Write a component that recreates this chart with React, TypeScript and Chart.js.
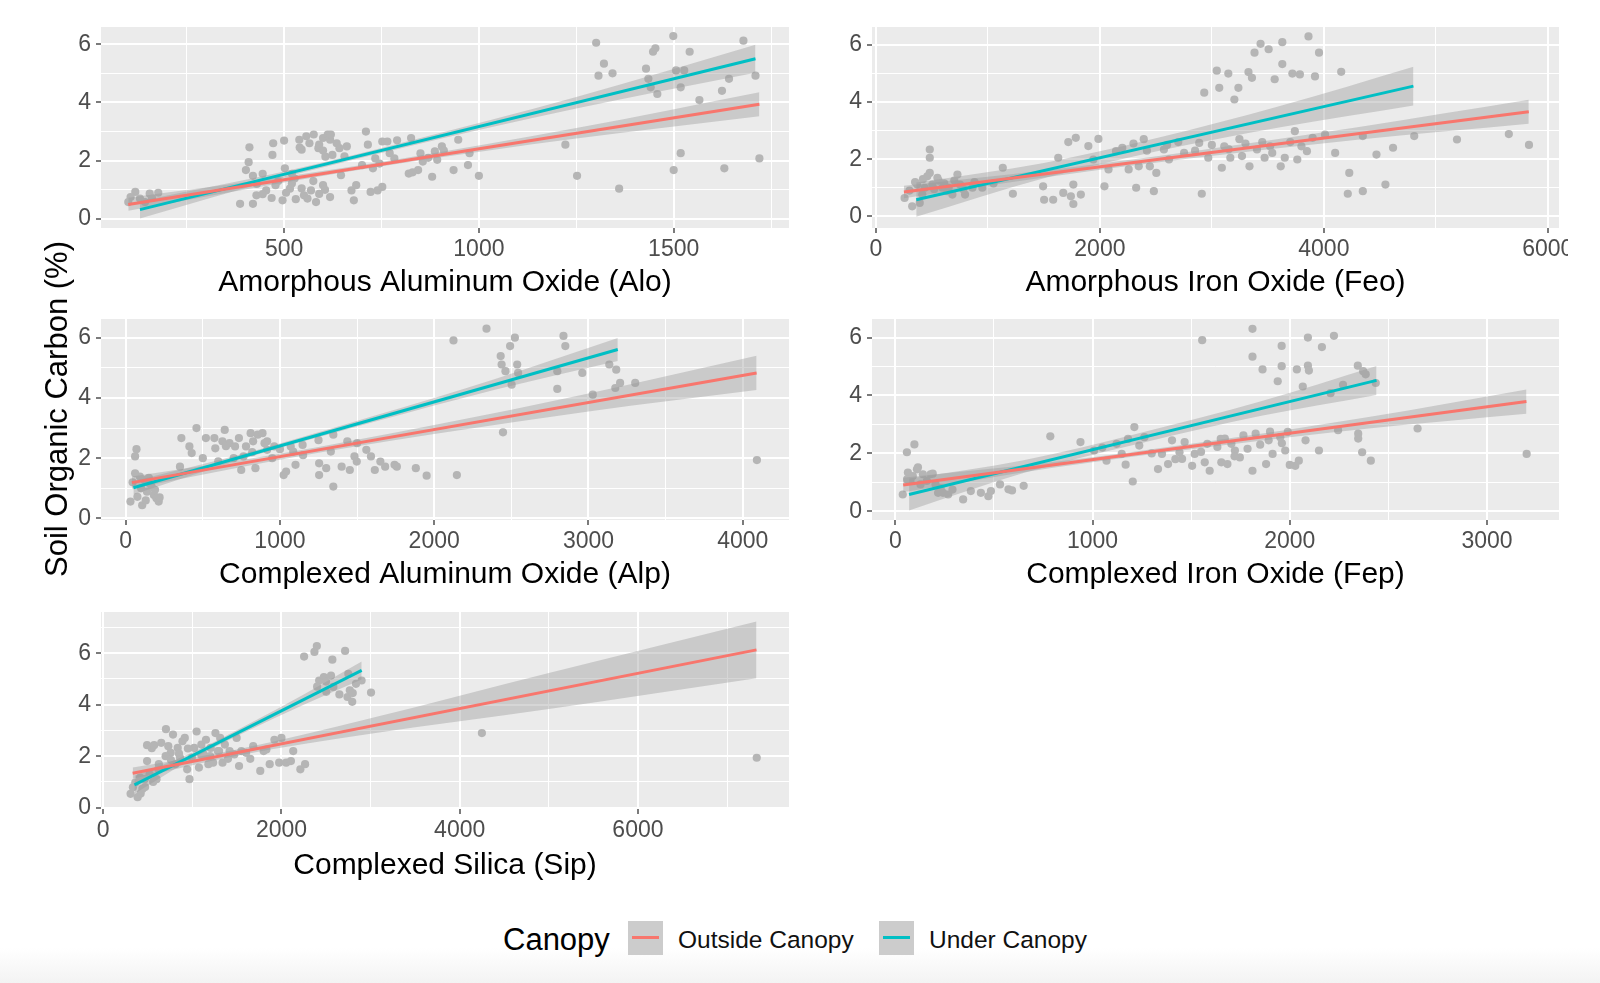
import React, { useEffect, useRef } from "react";
import { Chart, registerables } from "chart.js";

Chart.register(...registerables);

const FONT = "'Liberation Sans', Arial, Helvetica, sans-serif";
const RED = "#F8766D";
const TEAL = "#00BFC4";
const POINT_GREY = "#b5b5b5";
const BAND_FILL = "rgba(153,153,153,0.4)";

// ---------- shared labels ----------
const yTitle = "Soil Organic Carbon (%)";
const legendTitle = "Canopy";
const legendLabels = ["Outside Canopy", "Under Canopy"];
const socMajor = [0, 2, 4, 6];
const socMinor = [1, 3, 5];
const sipSocMinor = [1, 3, 5, 7];

// ---------- Panel 1: Amorphous Aluminum Oxide (Alo) ----------
const aloX = [100,118,130,155,177,106,143,161, 411,409,402,420,387,420,429,472,500,502,454,478,496,515,527,539,545,557,576,588,600,612,618,606,624,551,569,582,600,618,646,642,661,673,679,685,710,722,740,752,728,734,752,765,771,783,820,826,844,856,880,887,905,893,935,947,972,976,1000, 430,445,468,485,505,520,530,545,560,575,590,605,540,565,590,600,620,635,655,700,715,745,790,830,850,870,910,470,445,520, 1222,1252,1301,1321,1307,1343,1360,1429,1435,1447,1453,1441,1458,1499,1506,1518,1527,1541,1566,1500,1518,1624,1630,1642,1679,1710,1720];
const aloSOC = [0.58,0.93,0.7,0.87,0.9,0.75,0.58,0.72, 2.46,1.95,1.68,1.48,0.52,0.52,0.81,2.6,2.69,1.74,0.98,1.16,0.64,1.04,1.39,2.72,2.38,2.84,2.9,2.43,2.78,2.9,2.72,2.14,2.2,0.81,0.98,0.58,1.16,0.75,1.5,2.43,2.49,0.98,0.64,1.16,3.0,0.93,0.98,1.1,1.74,2.08,2.66,2.66,2.26,2.08,1.56,2.78,1.68,1.97,1.45,2.32,2.49,2.03,1.68,2.72,1.85,2.26,1.48, 1.2,0.85,0.72,1.3,0.9,1.22,0.68,1.05,0.7,1.3,0.86,1.0,2.45,2.6,2.55,2.35,2.9,2.6,2.15,1.85,2.55,1.9,2.7,1.6,2.25,2.1,2.35,2.2,1.55,1.55, 2.55,1.48,6.05,5.33,4.92,5.0,1.04,5.16,4.81,5.74,5.86,4.52,4.29,6.28,5.1,4.52,5.1,5.74,4.08,1.68,2.26,4.4,1.74,4.81,6.12,4.92,2.08];
const aloOutLineX = [100, 1720];
const aloOutLineY = [0.5, 3.94];
const aloOutBandX = [100, 500, 800, 1250, 1720];
const aloOutBandHi = [0.73, 1.45, 2.07, 3.12, 4.35];
const aloOutBandLo = [0.28, 1.25, 1.91, 2.76, 3.53];
const aloUndLineX = [130, 1710];
const aloUndLineY = [0.32, 5.5];
const aloUndBandX = [130, 500, 800, 1250, 1710];
const aloUndBandHi = [0.62, 1.63, 2.61, 4.19, 5.98];
const aloUndBandLo = [0.02, 1.43, 2.43, 3.79, 5.02];
const aloXMajor = [500, 1000, 1500];
const aloXMinor = [250, 750, 1250, 1750];

// ---------- Panel 2: Amorphous Iron Oxide (Feo) ----------
const feoX = [256,324,391,414,481,481,481,459,504,549, 594,638,683,728,751,796,863,369,436,1133, 1223,1493,1502,1583,1628,1673,1718,1763,1741,1785, 1763,1830,1897,1942,1987,2041,2077,2144,2257,2324, 2347,2392,2446,2482,2504,2572,2617,2752,2887,2910, 2932,2968,3044,3066,3089,3111,3147,3165,3201,3237, 3246,3269,3327,3336,3358,3381,3403,3435,3471,3507, 3539,3561,3629,3629,3615,3651,3719,3741,3786,3763, 3849,3863,3921,3957,4011,4101,4155,4214,4227,4348, 4348,4470,4550,4618,4807,5189,5652,5832, 300,350,420,520,560,610,650,700,780,880,950,1050, 2200,2300,2420,2600,2700,2850,3000,3150,3300,3450,3520,3700,3800,3900];
const feoSOC = [0.64,0.35,0.47,0.76,2.34,2.05,1.52,1.4,1.11,1.35, 1.0,0.88,0.76,1.46,1.11,0.76,1.0,1.11,1.0,1.7, 0.79,1.05,0.58,0.58,2.05,0.82,2.6,1.11,0.7,2.75, 0.43,0.76,2.46,1.99,2.71,1.05,1.64,2.28,1.64,1.0, 1.75,2.7,1.75,0.88,1.52,2.34,1.99,2.22,2.57,0.79, 4.33,2.05,5.1,4.5,1.7,2.45,5.0,2.05,4.09,4.5, 2.7,2.11,5.05,1.75,4.85,5.73,2.34,6.04,2.05,5.85, 2.22,4.8,6.1,5.33,1.75,2.05,5.0,2.98,4.97,1.99, 2.28,6.3,4.9,5.73,2.86,2.22,5.06,0.79,1.52,0.88, 2.81,2.16,1.11,2.4,2.81,2.69,2.88,2.5, 0.9,1.2,1.3,0.95,1.25,1.15,1.0,1.25,0.95,1.2,1.0,1.15, 2.4,2.55,2.3,2.5,2.6,2.3,2.5,2.35,2.55,2.6,2.45,2.6,2.45,2.75];
const feoOutLineX = [250, 5830];
const feoOutLineY = [0.85, 3.66];
const feoOutBandX = [250, 1500, 2800, 4300, 5830];
const feoOutBandHi = [1.07, 1.6, 2.26, 3.12, 4.08];
const feoOutBandLo = [0.63, 1.36, 2.02, 2.68, 3.24];
const feoUndLineX = [360, 4800];
const feoUndLineY = [0.58, 4.56];
const feoUndBandX = [360, 1500, 2500, 3600, 4800];
const feoUndBandHi = [1.18, 1.87, 2.73, 3.85, 5.24];
const feoUndBandLo = [-0.02, 1.33, 2.27, 3.11, 3.88];
const feoXMajor = [0, 2000, 4000, 6000];
const feoXMinor = [1000, 3000, 5000];

// ---------- Panel 3: Complexed Aluminum Oxide (Alp) ----------
const alpX = [61,70,31,76,107,138,153,183,214,92, 61,122,168,199,352,361,413,428,459,520, 575,581,642,627,673,709,734,749,764,780, 810,826,841,856,887,917,917,963,1024,1040, 1070,1086,1101,1147,1254,1254,1300,1330,1346,1346, 1400,1437,1453,1483,1498,1560,1590,1615,1651,1682, 1743,1758,1881,1951,2125,2147,2339,2431,2437,2446, 2462,2492,2502,2523,2538,2544,2798,2798,2838,2850, 2960,3028,3135,3180,3174,3205,3303,4092, 45,100,130,150,190,220,500,600,650,700,820,900,950,1000,1150,1250,1500];
const alpSOC = [2.06,2.3,0.56,0.72,0.44,0.89,1.17,0.78,0.56,1.39, 1.5,1.28,1.06,0.67,1.72,2.67,2.39,2.17,3.0,2.67, 2.67,2.33,2.94,2.56,2.5,2.39,2.67,1.61,2.06,2.39, 2.83,2.56,1.67,2.78,2.83,2.56,2.28,2.39,1.44,1.56, 2.39,2.22,1.78,2.44,1.83,1.44,1.67,2.22,1.06,2.78, 1.72,2.56,1.61,2.06,1.89,2.28,2.06,1.61,1.89,1.72, 1.78,1.72,1.67,1.42,5.91,1.44,6.3,5.39,5.11,2.86, 4.89,5.72,4.44,6.0,5.11,4.83,4.3,4.89,6.06,5.72, 4.83,4.11,5.11,4.94,4.33,4.5,4.5,1.94, 1.2,1.0,0.6,1.35,0.95,0.7,2.0,1.9,2.4,2.0,2.2,2.5,2.0,2.3,2.1,2.6,2.5];
const alpOutLineX = [40, 4090];
const alpOutLineY = [1.19, 4.83];
const alpOutBandX = [40, 1000, 2000, 3000, 4090];
const alpOutBandHi = [1.39, 2.15, 3.1, 4.15, 5.4];
const alpOutBandLo = [0.99, 1.95, 2.8, 3.55, 4.26];
const alpUndLineX = [50, 3190];
const alpUndLineY = [1.02, 5.61];
const alpUndBandX = [50, 800, 1600, 2400, 3190];
const alpUndBandHi = [1.24, 2.2, 3.39, 4.64, 5.99];
const alpUndBandLo = [0.8, 2.04, 3.19, 4.28, 5.23];
const alpXMajor = [0, 1000, 2000, 3000, 4000];
const alpXMinor = [500, 1500, 2500, 3500];

// ---------- Panel 4: Complexed Iron Oxide (Fep) ----------
const fepX = [38,59,97,64,89,115,140,179,204,217, 242,268,77,128,344,383,434,472,485,531, 574,592,651,786,939,1008,1071,1122,1148,1168, 1204,1212,1237,1263,1332,1352,1383,1403,1441,1454, 1467,1505,1518,1556,1569,1582,1594,1633,1653,1671, 1684,1704,1722,1747,1765,1786,1811,1811,1811,1827, 1862,1880,1893,1913,1939,1952,1959,1959,1977,1990, 2028,2036,2046,2066,2092,2092,2097,2148,2163,2207, 2224,2245,2270,2345,2347,2347,2367,2372,2385,2411, 2436,2648,3201, 60,110,160,190,230,290,1050,1180,1300,1420,1550,1650,1720,1850,1900,1960,2000,2080];
const fepSOC = [0.58,2.04,2.31,1.34,1.22,1.52,1.28,1.28,0.93,0.64, 0.64,0.58,1.05,0.93,0.41,0.7,0.64,0.52,0.7,0.93, 0.76,0.72,0.88,2.59,2.39,2.1,1.75,2.33,1.98,1.61, 1.03,2.91,2.27,2.56,1.46,1.98,1.63,2.45,2.04,1.81, 2.39,1.57,1.98,5.91,1.69,2.33,1.4,2.22,1.69,2.51, 1.63,2.33,2.1,1.86,2.62,2.16,6.3,5.34,1.4,2.68, 4.9,1.63,2.45,1.98,4.49,2.56,5.71,5.01,2.1,2.74, 1.57,4.9,1.75,4.31,6.0,5.03,4.86,2.1,5.67,4.08, 6.06,2.8,4.37,5.03,2.68,2.51,2.04,4.84,4.73,1.75, 4.43,2.86,1.98, 1.1,1.45,1.05,1.3,0.8,0.75,2.2,2.5,2.0,1.8,2.05,2.5,1.9,2.3,2.75,2.35,1.6,2.45];
const fepOutLineX = [40, 3200];
const fepOutLineY = [0.91, 3.79];
const fepOutBandX = [40, 800, 1600, 2400, 3200];
const fepOutBandHi = [1.16, 1.7, 2.43, 3.26, 4.21];
const fepOutBandLo = [0.66, 1.5, 2.23, 2.86, 3.37];
const fepUndLineX = [70, 2440];
const fepUndLineY = [0.58, 4.52];
const fepUndBandX = [70, 650, 1250, 1850, 2440];
const fepUndBandHi = [1.13, 1.76, 2.72, 3.79, 5.02];
const fepUndBandLo = [0.03, 1.32, 2.36, 3.29, 4.02];
const fepXMajor = [0, 1000, 2000, 3000];
const fepXMinor = [500, 1500, 2500];

// ---------- Panel 5: Complexed Silica (Sip) ----------
const sipX = [307,333,360,386,413,439,466,492,492,545, 571,598,624,651,704,730,757,783,810,836, 862,889,915,942,968,995,1021,1048,1074,1101, 1127,1153,1180,1206,1233,1259,1286,1312,1339,1365, 1418,1471,1497,1524,1603,1683,1762,1831,1868,1921, 1974,2000,2053,2106,2132,2212,2265,2254,2370,2397, 2423,2476,2503,2556,2571,2582,2714,2741,2767,2794, 2836,2899,3005,4249,7333, 420,470,520,560,620,700,760,850,950,1100,1200,1300,1400,1550,1650,1800,2400,2500,2650,2800,2750];
const sipSOC = [0.54,0.79,0.98,0.41,1.17,0.73,1.11,1.81,2.43,2.31, 2.43,1.11,1.69,2.52,3.05,2.39,2.13,2.84,1.69,2.32, 1.94,2.58,2.71,1.49,1.11,1.94,2.32,2.96,1.56,2.45, 2.07,2.64,1.69,2.32,1.75,2.9,2.2,2.71,1.75,2.45, 2.2,2.07,2.71,1.62,2.13,2.39,1.43,2.26,1.69,2.64, 1.75,2.71,1.75,1.81,2.2,1.49,1.69,5.87,6.05,6.28, 4.94,5.07,4.5,5.13,5.75,4.69,6.09,4.3,4.56,4.11, 4.81,4.94,4.47,2.9,1.94, 0.55,0.8,1.3,1.0,1.5,2.0,1.85,2.1,2.3,2.05,2.0,2.2,1.9,2.2,1.9,2.2,4.7,4.9,4.4,4.45,5.2];
const sipOutLineX = [330, 7330];
const sipOutLineY = [1.34, 6.13];
const sipOutBandX = [330, 1500, 3000, 5000, 7330];
const sipOutBandHi = [1.56, 2.26, 3.47, 5.23, 7.23];
const sipOutBandLo = [1.12, 2.02, 2.87, 3.83, 5.03];
const sipUndLineX = [350, 2900];
const sipUndLineY = [0.89, 5.33];
const sipUndBandX = [350, 1000, 1600, 2250, 2900];
const sipUndBandHi = [1.24, 2.14, 3.19, 4.4, 5.68];
const sipUndBandLo = [0.54, 1.9, 2.95, 4.0, 4.98];
const sipXMajor = [0, 2000, 4000, 6000];
const sipXMinor = [1000, 3000, 5000, 7000];

type Group = { lineX: number[]; lineY: number[]; bandX: number[]; hi: number[]; lo: number[]; color: string };
type Panel = {
  key: string; title: string; px: number[]; py: number[]; groups: Group[];
  xMin: number; xMax: number; yMin: number; yMax: number;
  xMajor: number[]; xMinor: number[]; yMajor: number[]; yMinor: number[];
  box: { left: number; top: number; w: number; h: number; xh: number; padRight: number };
};

const grp = (lineX: number[], lineY: number[], bandX: number[], hi: number[], lo: number[], color: string): Group =>
  ({ lineX, lineY, bandX, hi, lo, color });

const panels: Panel[] = [
  {
    key: "alo", title: "Amorphous Aluminum Oxide (Alo)", px: aloX, py: aloSOC,
    groups: [grp(aloOutLineX, aloOutLineY, aloOutBandX, aloOutBandHi, aloOutBandLo, RED), grp(aloUndLineX, aloUndLineY, aloUndBandX, aloUndBandHi, aloUndBandLo, TEAL)],
    xMin: 30, xMax: 1796, yMin: -0.31, yMax: 6.59, xMajor: aloXMajor, xMinor: aloXMinor, yMajor: socMajor, yMinor: socMinor,
    box: { left: 101, top: 27, w: 688, h: 201, xh: 73, padRight: 20 },
  },
  {
    key: "feo", title: "Amorphous Iron Oxide (Feo)", px: feoX, py: feoSOC,
    groups: [grp(feoOutLineX, feoOutLineY, feoOutBandX, feoOutBandHi, feoOutBandLo, RED), grp(feoUndLineX, feoUndLineY, feoUndBandX, feoUndBandHi, feoUndBandLo, TEAL)],
    xMin: -35, xMax: 6100, yMin: -0.41, yMax: 6.63, xMajor: feoXMajor, xMinor: feoXMinor, yMajor: socMajor, yMinor: socMinor,
    box: { left: 872, top: 27, w: 687, h: 201, xh: 73, padRight: 9 },
  },
  {
    key: "alp", title: "Complexed Aluminum Oxide (Alp)", px: alpX, py: alpSOC,
    groups: [grp(alpOutLineX, alpOutLineY, alpOutBandX, alpOutBandHi, alpOutBandLo, RED), grp(alpUndLineX, alpUndLineY, alpUndBandX, alpUndBandHi, alpUndBandLo, TEAL)],
    xMin: -160, xMax: 4300, yMin: -0.05, yMax: 6.62, xMajor: alpXMajor, xMinor: alpXMinor, yMajor: socMajor, yMinor: socMinor,
    box: { left: 101, top: 319, w: 688, h: 201, xh: 73, padRight: 20 },
  },
  {
    key: "fep", title: "Complexed Iron Oxide (Fep)", px: fepX, py: fepSOC,
    groups: [grp(fepOutLineX, fepOutLineY, fepOutBandX, fepOutBandHi, fepOutBandLo, RED), grp(fepUndLineX, fepUndLineY, fepUndBandX, fepUndBandHi, fepUndBandLo, TEAL)],
    xMin: -118, xMax: 3365, yMin: -0.3, yMax: 6.64, xMajor: fepXMajor, xMinor: fepXMinor, yMajor: socMajor, yMinor: socMinor,
    box: { left: 872, top: 319, w: 687, h: 201, xh: 73, padRight: 9 },
  },
  {
    key: "sip", title: "Complexed Silica (Sip)", px: sipX, py: sipSOC,
    groups: [grp(sipOutLineX, sipOutLineY, sipOutBandX, sipOutBandHi, sipOutBandLo, RED), grp(sipUndLineX, sipUndLineY, sipUndBandX, sipUndBandHi, sipUndBandLo, TEAL)],
    xMin: -25, xMax: 7695, yMin: -0.05, yMax: 7.6, xMajor: sipXMajor, xMinor: sipXMinor, yMajor: socMajor, yMinor: sipSocMinor,
    box: { left: 101, top: 612, w: 688, h: 197, xh: 75, padRight: 20 },
  },
];

const Y_AXIS_W = 50;
const PAD_TOP = 10;

const panelBg = {
  id: "panelBg",
  beforeDraw(chart: any) {
    const { ctx, chartArea: a } = chart;
    ctx.save();
    ctx.fillStyle = "#EBEBEB";
    ctx.fillRect(a.left, a.top, a.right - a.left, a.bottom - a.top);
    ctx.restore();
  },
};

function makeAxis(p: Panel, isX: boolean): any {
  const major = isX ? p.xMajor : p.yMajor;
  const minor = isX ? p.xMinor : p.yMinor;
  const isMajor = (v: any) => major.includes(v);
  return {
    type: "linear",
    position: isX ? "bottom" : "left",
    min: isX ? p.xMin : p.yMin,
    max: isX ? p.xMax : p.yMax,
    bounds: "data",
    afterBuildTicks: (s: any) => {
      s.ticks = [...major, ...minor].sort((a, b) => a - b).map((v) => ({ value: v }));
    },
    afterFit: (s: any) => {
      if (isX) s.height = p.box.xh;
      else s.width = Y_AXIS_W;
      s.paddingLeft = 0; s.paddingRight = 0; s.paddingTop = 0; s.paddingBottom = 0;
    },
    border: { display: false },
    grid: {
      drawOnChartArea: true,
      drawTicks: true,
      tickLength: 5,
      color: "#ffffff",
      lineWidth: (c: any) => (c.tick && isMajor(c.tick.value) ? 2 : 1),
      tickColor: (c: any) => (c.tick && isMajor(c.tick.value) ? "#333333" : "rgba(0,0,0,0)"),
      tickWidth: 1.3,
    },
    ticks: {
      autoSkip: false,
      maxRotation: 0,
      minRotation: 0,
      includeBounds: false,
      padding: isX ? 3 : 5,
      color: "#4D4D4D",
      font: { family: FONT, size: 23 },
      callback: (v: any) => (isMajor(v) ? String(v) : ""),
    },
    title: isX
      ? { display: true, text: p.title, color: "#000000", font: { family: FONT, size: 30 }, padding: 0 }
      : { display: false },
  };
}

function buildConfig(p: Panel): any {
  const pts = (xs: number[], ys: number[]) => xs.map((x, i) => ({ x, y: ys[i] }));
  const datasets: any[] = [
    {
      type: "scatter",
      data: pts(p.px, p.py),
      pointRadius: 4.1,
      pointHoverRadius: 4.1,
      pointBackgroundColor: POINT_GREY,
      pointBorderColor: "rgba(0,0,0,0)",
      pointBorderWidth: 0,
      order: 10,
    },
  ];
  for (const g of p.groups) {
    datasets.push({
      type: "line", data: pts(g.bandX, g.hi), borderWidth: 0, borderColor: "rgba(0,0,0,0)",
      pointRadius: 0, fill: "+1", backgroundColor: BAND_FILL, cubicInterpolationMode: "monotone", order: 5,
    });
    datasets.push({
      type: "line", data: pts(g.bandX, g.lo), borderWidth: 0, borderColor: "rgba(0,0,0,0)",
      pointRadius: 0, fill: false, cubicInterpolationMode: "monotone", order: 5,
    });
  }
  for (const g of p.groups) {
    datasets.push({
      type: "line", data: pts(g.lineX, g.lineY), borderColor: g.color, borderWidth: 3,
      pointRadius: 0, fill: false, order: 0,
    });
  }
  return {
    type: "scatter",
    data: { datasets },
    plugins: [panelBg],
    options: {
      animation: false,
      responsive: false,
      devicePixelRatio: 1,
      events: [],
      layout: { padding: { top: PAD_TOP, right: p.box.padRight, left: 0, bottom: 0 } },
      plugins: { legend: { display: false }, tooltip: { enabled: false } },
      scales: { x: makeAxis(p, true), y: makeAxis(p, false) },
    },
  };
}

function PanelChart({ p }: { p: Panel }) {
  const ref = useRef<HTMLCanvasElement>(null);
  useEffect(() => {
    const chart = new Chart(ref.current as HTMLCanvasElement, buildConfig(p));
    return () => chart.destroy();
  }, [p]);
  const left = p.box.left - Y_AXIS_W;
  const top = p.box.top - PAD_TOP;
  const width = Y_AXIS_W + p.box.w + p.box.padRight;
  const height = PAD_TOP + p.box.h + p.box.xh;
  return (
    <canvas
      ref={ref}
      width={width}
      height={height}
      style={{ position: "absolute", left, top, width, height }}
    />
  );
}

const legendColors = [RED, TEAL];
const legendKeyLeft = [628, 879];
const legendTextLeft = [678, 929];

export default function App() {
  return (
    <div
      style={{
        position: "absolute", left: 0, top: 0, width: 1600, height: 983, overflow: "hidden",
        background: "#ffffff", fontFamily: FONT,
      }}
    >
      <div style={{ position: "absolute", left: 0, top: 948, width: 1600, height: 35, background: "linear-gradient(#ffffff, #f3f3f3)" }} />
      {panels.map((p) => (
        <PanelChart key={p.key} p={p} />
      ))}
      <div
        style={{
          position: "absolute", left: 57, top: 409, transform: "translate(-50%, -50%) rotate(-90deg)",
          whiteSpace: "nowrap", fontSize: 31, lineHeight: "36px", color: "#000",
        }}
      >
        {yTitle}
      </div>
      <div style={{ position: "absolute", left: 503, top: 922, fontSize: 31, lineHeight: "36px", color: "#000", whiteSpace: "nowrap" }}>
        {legendTitle}
      </div>
      {legendLabels.map((lab, i) => (
        <React.Fragment key={lab}>
          <div style={{ position: "absolute", left: legendKeyLeft[i], top: 921, width: 35, height: 34, background: "#cccccc" }}>
            <div style={{ position: "absolute", left: 4, top: 15, width: 27, height: 3, background: legendColors[i] }} />
          </div>
          <div style={{ position: "absolute", left: legendTextLeft[i], top: 925, fontSize: 24.5, lineHeight: "30px", color: "#111", whiteSpace: "nowrap" }}>
            {lab}
          </div>
        </React.Fragment>
      ))}
    </div>
  );
}
